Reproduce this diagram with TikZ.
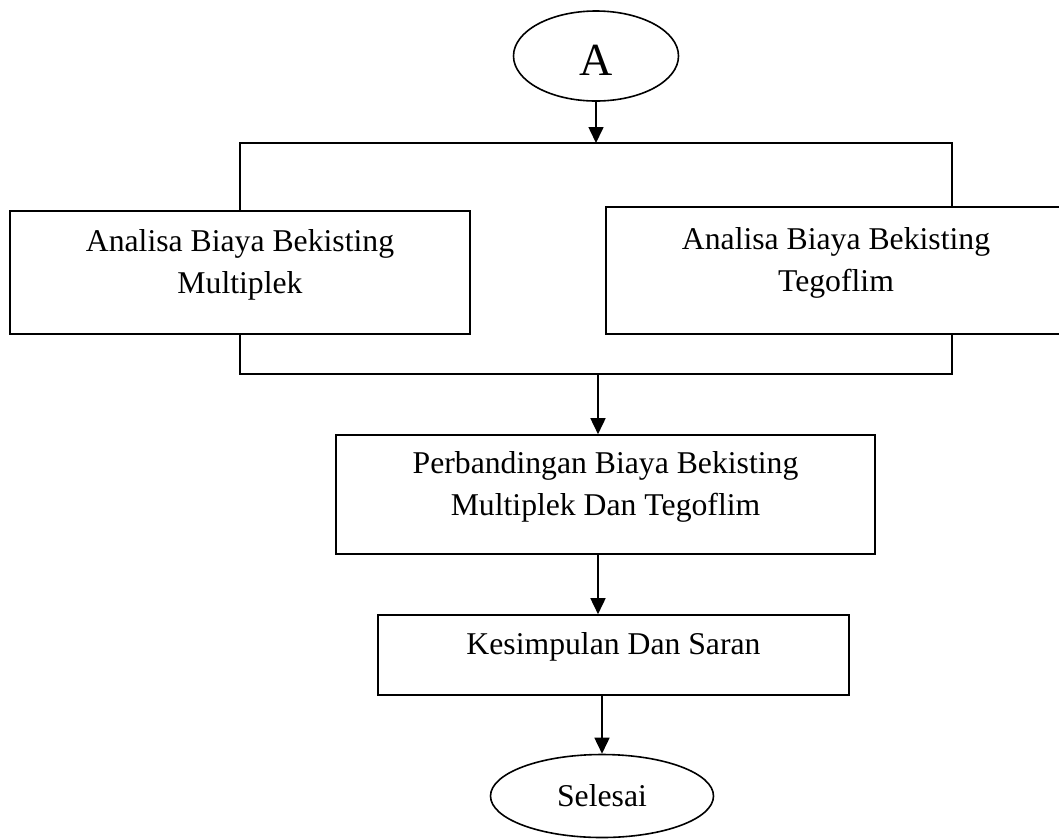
\documentclass[tikz,border=0pt]{standalone}
\usepackage{fontspec}
\setmainfont{Liberation Serif}
\usetikzlibrary{arrows.meta,shapes.geometric}
\begin{document}
\begin{tikzpicture}[x=1pt, y=-1pt, >={Triangle[length=16pt,width=15pt]}, line width=1.6pt,
    kotak/.style={draw, rectangle, align=center, inner sep=0pt, text depth=23pt,
                  font=\fontsize{31.7}{42}\selectfont},
    oval/.style={draw, ellipse, inner sep=0pt, font=\fontsize{31.7}{38}\selectfont}]
                \useasboundingbox (0,0) rectangle (1059,839);
                % terminal atas
                \node[oval, minimum width=165pt, minimum height=90pt, font=\fontsize{46}{46}\selectfont, text height=39pt] (A) at (596,56) {A};
                % dua analisa
                \node[kotak, minimum width=460pt, minimum height=123pt] (multi) at (240,272.5) {Analisa Biaya Bekisting\\Multiplek};
                \node[kotak, minimum width=460pt, minimum height=127pt] (tego) at (836,270.5) {Analisa Biaya Bekisting\\Tegoflim};
                \node[kotak, minimum width=539pt, minimum height=119pt] (banding) at (605.5,494.5) {Perbandingan Biaya Bekisting\\Multiplek Dan Tegoflim};
                \node[kotak, minimum width=471pt, minimum height=80pt] (simpul) at (613.5,655) {Kesimpulan Dan Saran};
                \node[oval, minimum width=223pt, minimum height=83pt] (selesai) at (602,796) {Selesai};
                \coordinate (cabang) at (952,143);
                \coordinate (gabung) at (952,374);
                \coordinate (turun) at (598,374);
                \draw[->] (A) -- (A |- cabang);
                \draw (multi.north) |- (cabang) -- (cabang |- tego.north);
                \draw (multi.south) |- (gabung) -- (gabung |- tego.south);
                \draw[->] (turun) -- (turun |- banding.north);
                \draw[->] (turun |- banding.south) -- (turun |- simpul.north);
                \draw[->] (selesai |- simpul.south) -- (selesai.north);
\end{tikzpicture}
\end{document}
